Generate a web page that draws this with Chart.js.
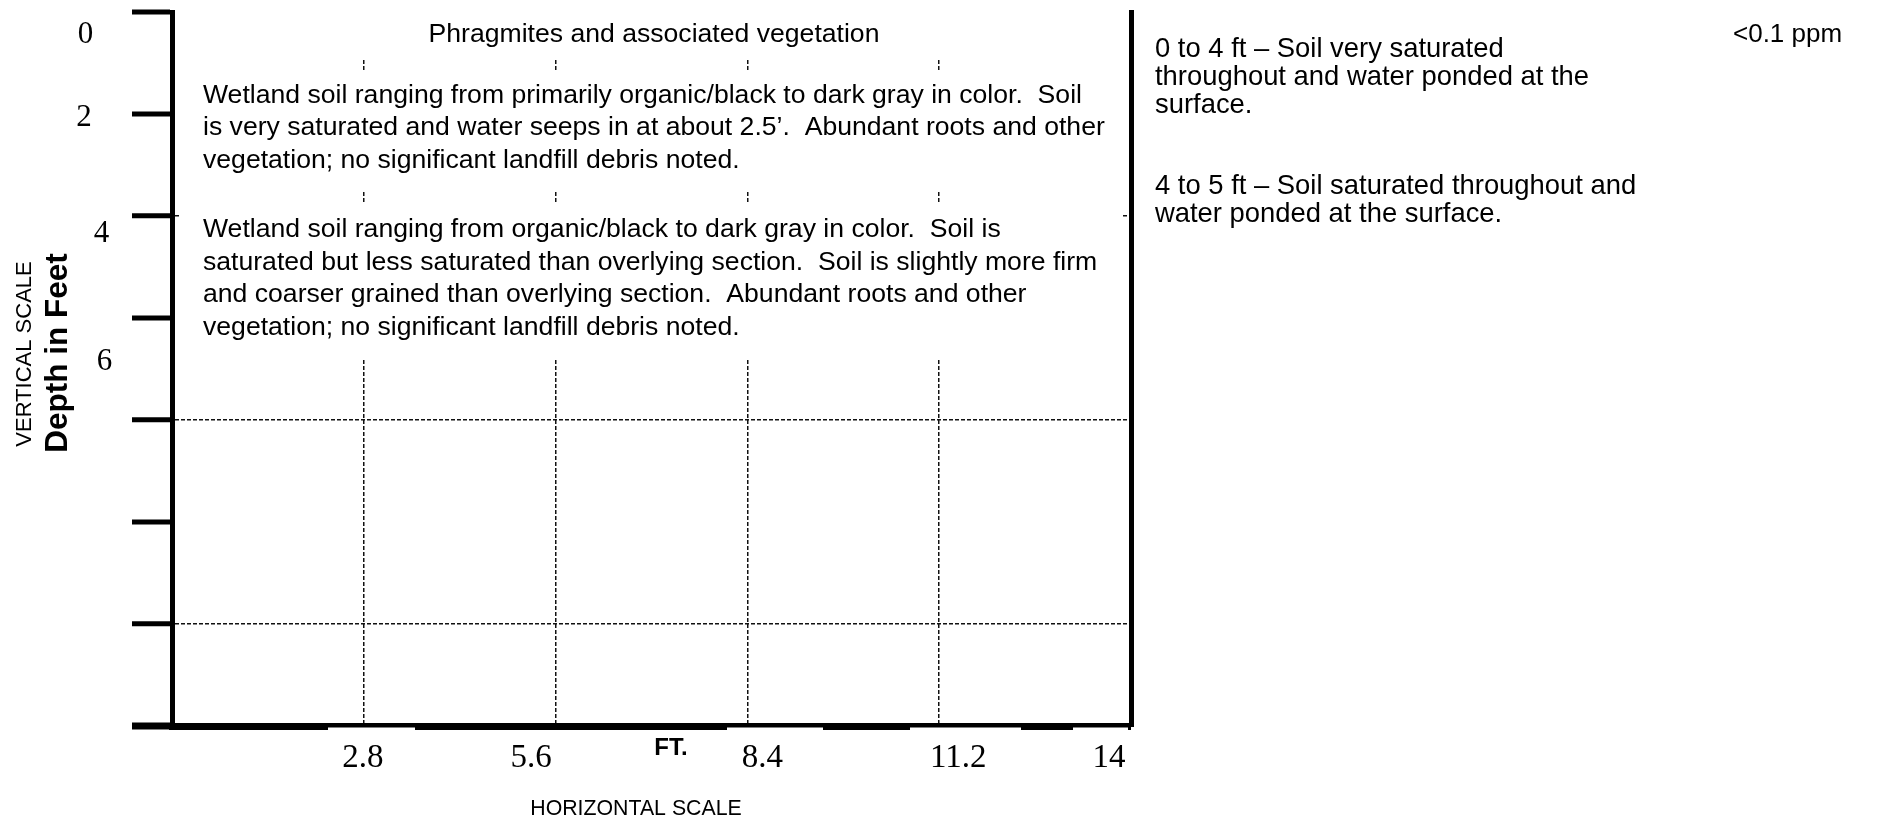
<!DOCTYPE html>
<html><head><meta charset="utf-8">
<script src="https://cdn.jsdelivr.net/npm/chart.js@4.4.0/dist/chart.umd.min.js"></script>
<style>html,body{margin:0;padding:0;background:#fff;overflow:hidden}#wrap{width:1892px;height:825px}</style>
</head><body><div id="wrap"><canvas id="c" width="1892" height="825"></canvas></div>
<script>
// ---------------- data ----------------
const depthTickValues = [0, 2, 4, 6, 8, 10, 12, 14];
const depthTickLabels = ['0', '2', '4', '6'];
const depthGridValues = [4, 8, 12];
const horizTickValues = [2.8, 5.6, 8.4, 11.2, 14];
const horizTickLabels = ['2.8', '5.6', '8.4', '11.2', '14'];
const surfaceNote = 'Phragmites and associated vegetation';
const layer1Lines = [
  'Wetland soil ranging from primarily organic/black to dark gray in color.  Soil',
  'is very saturated and water seeps in at about 2.5\u2019.  Abundant roots and other',
  'vegetation; no significant landfill debris noted.'
];
const layer2Lines = [
  'Wetland soil ranging from organic/black to dark gray in color.  Soil is',
  'saturated but less saturated than overlying section.  Soil is slightly more firm',
  'and coarser grained than overlying section.  Abundant roots and other',
  'vegetation; no significant landfill debris noted.'
];
const obsLayer1 = ['0 to 4 ft \u2013 Soil very saturated', 'throughout and water ponded at the', 'surface.'];
const obsLayer2 = ['4 to 5 ft \u2013 Soil saturated throughout and', 'water ponded at the surface.'];
const pidReading = '<0.1 ppm';

// ---------------- layout / style ----------------
const SANS = '"Liberation Sans", Arial, sans-serif';
const SERIF = '"Liberation Serif", "Times New Roman", serif';
const L = {
  bodyFont: '26.6px ' + SANS,
  obsFont: '27.4px ' + SANS,
  pidFont: '26px ' + SANS,
  lineGap: 32.6,
  whiteBoxes: [
    {x: 180, y: 0, w: 944, h: 60},
    {x: 180, y: 70, w: 944, h: 122},
    {x: 181, y: 203, w: 941, h: 155}
  ],
  surface: {x: 654, y: 42},
  layer1: {x: 203, y: 102.7},
  layer2: {x: 203, y: 237},
  obs1: {x: 1155, y: 57},
  obs2: {x: 1155, y: 194},
  obsGap: 27.8,
  pid: {x: 1733, y: 42},
  yLab: {font: '31px ' + SERIF, x: [85.5, 84, 101.5, 104.5], dy: [31, 12, 26, 52]},
  xLab: {font: '33px ' + SERIF, dx: [-1, -24.5, 15, 19, -22], y: 767},
  ft: {text: 'FT.', font: 'bold 24px ' + SANS, x: 671, y: 755},
  hTitle: {text: 'HORIZONTAL SCALE', font: '21.3px ' + SANS, x: 636, y: 815},
  vTitle1: {text: 'VERTICAL SCALE', font: '22px ' + SANS, x: 31, y: 354},
  vTitle2: {text: 'Depth in Feet', font: 'bold 31.5px ' + SANS, x: 67, y: 353},
  notches: [[328, 415], [727, 823], [910, 1021], [1073, 1128]],
  notchY: 727.5, notchH: 4
};

const drawPlugin = {
  id: 'boringLog',
  beforeDraw(chart) {
    const c = chart.ctx;
    c.save(); c.fillStyle = '#fff'; c.fillRect(0, 0, chart.width, chart.height); c.restore();
  },
  afterDraw(chart) {
    const c = chart.ctx;
    const xs = chart.scales.x, ys = chart.scales.y;
    c.save();
    c.fillStyle = '#fff';
    L.whiteBoxes.forEach(b => c.fillRect(b.x, b.y, b.w, b.h));
    L.notches.forEach(n => c.fillRect(n[0], L.notchY, n[1] - n[0], L.notchH));
    c.fillStyle = '#000';
    c.textBaseline = 'alphabetic';
    // body texts
    c.font = L.bodyFont;
    c.textAlign = 'center';
    c.fillText(surfaceNote, L.surface.x, L.surface.y);
    c.textAlign = 'left';
    layer1Lines.forEach((t, i) => c.fillText(t, L.layer1.x, L.layer1.y + i * L.lineGap));
    layer2Lines.forEach((t, i) => c.fillText(t, L.layer2.x, L.layer2.y + i * L.lineGap));
    c.font = L.obsFont;
    obsLayer1.forEach((t, i) => c.fillText(t, L.obs1.x, L.obs1.y + i * L.obsGap));
    obsLayer2.forEach((t, i) => c.fillText(t, L.obs2.x, L.obs2.y + i * L.obsGap));
    c.font = L.pidFont;
    c.fillText(pidReading, L.pid.x, L.pid.y);
    // depth labels
    c.font = L.yLab.font; c.textAlign = 'center';
    depthTickLabels.forEach((t, i) => {
      c.fillText(t, L.yLab.x[i], ys.getPixelForValue(depthTickValues[i]) + L.yLab.dy[i]);
    });
    // horizontal labels
    c.font = L.xLab.font;
    horizTickLabels.forEach((t, i) => {
      c.fillText(t, xs.getPixelForValue(horizTickValues[i]) + L.xLab.dx[i], L.xLab.y);
    });
    c.font = L.ft.font; c.fillText(L.ft.text, L.ft.x, L.ft.y);
    c.font = L.hTitle.font; c.fillText(L.hTitle.text, L.hTitle.x, L.hTitle.y);
    // rotated titles
    [L.vTitle1, L.vTitle2].forEach(tt => {
      c.save(); c.translate(tt.x, tt.y); c.rotate(-Math.PI / 2);
      c.font = tt.font; c.textAlign = 'center'; c.fillText(tt.text, 0, 0); c.restore();
    });
    c.restore();
  }
};

new Chart(document.getElementById('c'), {
  type: 'scatter',
  data: {datasets: []},
  options: {
    responsive: false, animation: false, devicePixelRatio: 1,
    layout: {padding: {left: 132, right: 761, top: 12, bottom: 99}},
    plugins: {legend: {display: false}, tooltip: {enabled: false}, title: {display: false}},
    scales: {
      x: {
        type: 'linear', position: 'bottom', min: 0, max: 14,
        afterBuildTicks: s => { s.ticks = [0, ...horizTickValues].map(v => ({value: v})); },
        ticks: {display: false},
        grid: {display: true, drawTicks: false, drawOnChartArea: true, color: '#111',
          lineWidth: c => (c.tick && c.tick.value > 0 && c.tick.value < 14) ? 1.5 : 0},
        border: {display: true, color: '#000', width: 7, dash: [4, 2]}
      },
      y: {
        type: 'linear', position: 'left', reverse: true, min: 0, max: 14,
        afterBuildTicks: s => { s.ticks = depthTickValues.map(v => ({value: v})); },
        ticks: {display: false},
        grid: {display: true, drawTicks: true, tickLength: 40, tickColor: '#000',
          tickWidth: c => (c.tick && c.tick.value === 14) ? 7 : 5,
          color: '#111',
          lineWidth: c => (c.tick && depthGridValues.includes(c.tick.value)) ? 1.5 : 0},
        border: {display: true, color: '#000', width: 5, dash: [4, 2]}
      },
      yR: {
        type: 'linear', position: 'right', reverse: true, min: 0, max: 14, display: true,
        ticks: {display: false}, grid: {display: false, drawTicks: false},
        border: {display: true, color: '#000', width: 5}
      }
    }
  },
  plugins: [drawPlugin]
});
</script></body></html>
